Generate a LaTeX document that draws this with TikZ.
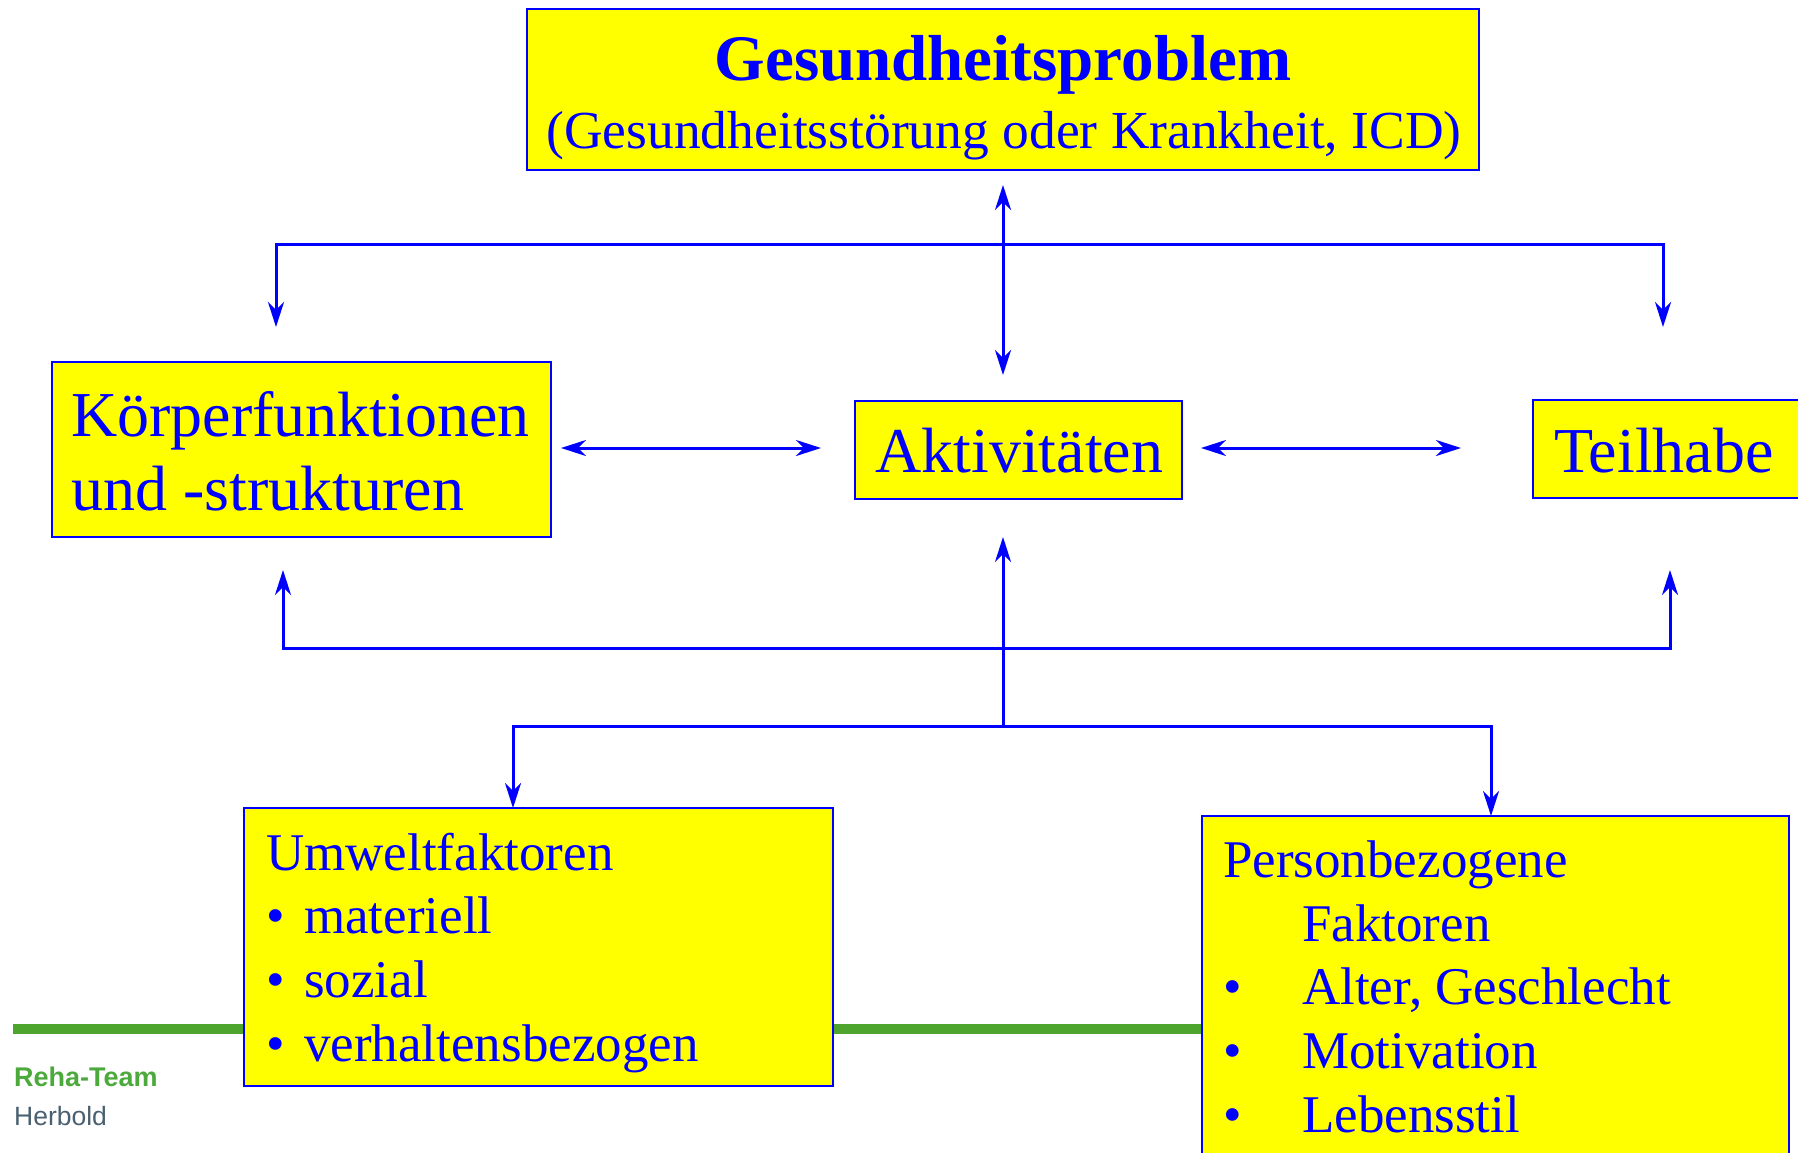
\documentclass[tikz,border=0pt]{standalone}
\usepackage{fontspec}
\setmainfont{Liberation Serif}
\newfontfamily\footfont{Liberation Sans}
\usetikzlibrary{arrows.meta}
\definecolor{icfblue}{RGB}{0,0,255}
\definecolor{icfyellow}{RGB}{255,255,0}
\definecolor{barline}{RGB}{78,165,46}
\definecolor{rehagreen}{RGB}{76,170,60}
\definecolor{herboldgray}{RGB}{74,96,112}
\begin{document}
\begin{tikzpicture}[x=1pt,y=-1pt,
  box/.style={draw=icfblue, fill=icfyellow, line width=2pt, inner sep=0pt},
  txt/.style={anchor=base west, inner sep=0pt, text=icfblue},
  ctxt/.style={anchor=base, inner sep=0pt, text=icfblue},
  large/.style={font=\fontsize{64}{76}\selectfont},
  medium/.style={font=\fontsize{53}{64}\selectfont},
  conn/.style={draw=icfblue, line width=3pt, arrows={Stealth[length=25pt,width=16pt,inset=8pt]-Stealth[length=25pt,width=16pt,inset=8pt]}},
  conn1/.style={draw=icfblue, line width=3pt, arrows={-Stealth[length=25pt,width=16pt,inset=8pt]}}
]
\useasboundingbox (0,0) rectangle (1798,1152);

% green footer bar
\coordinate (g1) at (13,1029);
\coordinate (g2) at (1300,1029);
\draw[barline, line width=10pt] (g1) -- (g2);

% boxes
\node[box, minimum width=952pt, minimum height=161pt] (gp) at (1003,89.5) {};
\node[box, minimum width=499pt, minimum height=175pt] (kf) at (301.5,449.5) {};
\node[box, minimum width=327pt, minimum height=98pt] (ak) at (1018.5,450) {};
\node[box, minimum width=290pt, minimum height=98pt] (th) at (1678,449) {};
\node[box, minimum width=589pt, minimum height=278pt] (uw) at (538.5,947) {};
\node[box, minimum width=587pt, minimum height=354pt] (pf) at (1495.5,993) {};

% texts
\node[ctxt, font=\bfseries\fontsize{65}{78}\selectfont] (gp1) at (1003,80) {Gesundheitsproblem};
\node[ctxt, font=\fontsize{53.5}{64}\selectfont] (gp2) at (1004,148) {(Gesundheitsstörung oder Krankheit, ICD)};

\node[txt, large] (kf1) at (71,436) {Körperfunktionen};
\node[txt, large] (kf2) at (71,510) {und -strukturen};
\node[txt, large] (ak1) at (875,472) {Aktivitäten};
\node[txt, large] (th1) at (1554,472) {Teilhabe};

\node[txt, medium] (uw0) at (266,870) {Umweltfaktoren};
\node[txt, medium] (uwb1) at (266,933) {•};
\node[txt, medium] (uw1) at (304,933) {materiell};
\node[txt, medium] (uwb2) at (266,997) {•};
\node[txt, medium] (uw2) at (304,997) {sozial};
\node[txt, medium] (uwb3) at (266,1061) {•};
\node[txt, medium] (uw3) at (304,1061) {verhaltensbezogen};

\node[txt, medium] (pf0) at (1223,877) {Personbezogene};
\node[txt, medium] (pf1) at (1302,941) {Faktoren};
\node[txt, medium] (pfb2) at (1223,1004) {•};
\node[txt, medium] (pf2) at (1302,1004) {Alter, Geschlecht};
\node[txt, medium] (pfb3) at (1223,1068) {•};
\node[txt, medium] (pf3) at (1302,1068) {Motivation};
\node[txt, medium] (pfb4) at (1223,1132) {•};
\node[txt, medium] (pf4) at (1302,1132) {Lebensstil};

% footer
\node[anchor=base west, inner sep=0pt, text=rehagreen, font=\footfont\bfseries\fontsize{27}{32}\selectfont] (rt) at (14,1086) {Reha-Team};
\node[anchor=base west, inner sep=0pt, text=herboldgray, font=\footfont\fontsize{26.5}{31}\selectfont] (hb) at (14,1125) {Herbold};

% connector coordinates
\coordinate (t1) at (276,327);
\coordinate (t2) at (276,244);
\coordinate (t3) at (1663,244);
\coordinate (t4) at (1663,327);
\coordinate (v1) at (1003,185);
\coordinate (v2) at (1003,375);
\coordinate (h1) at (561,448);
\coordinate (h2) at (821,448);
\coordinate (h3) at (1201,448);
\coordinate (h4) at (1461,448);
\coordinate (b1) at (283,570);
\coordinate (b2) at (283,648);
\coordinate (b3) at (1670,648);
\coordinate (b4) at (1670,570);
\coordinate (u1) at (1003,728);
\coordinate (u2) at (1003,537);
\coordinate (l1) at (513,808);
\coordinate (l2) at (513,726);
\coordinate (l3) at (1491,726);
\coordinate (l4) at (1491,816);

% connectors
\draw[conn] (t1) -- (t2) -- (t3) -- (t4);
\draw[conn] (v1) -- (v2);
\draw[conn] (h1) -- (h2);
\draw[conn] (h3) -- (h4);
\draw[conn] (b1) -- (b2) -- (b3) -- (b4);
\draw[conn1] (u1) -- (u2);
\draw[conn] (l1) -- (l2) -- (l3) -- (l4);
\end{tikzpicture}
\end{document}
